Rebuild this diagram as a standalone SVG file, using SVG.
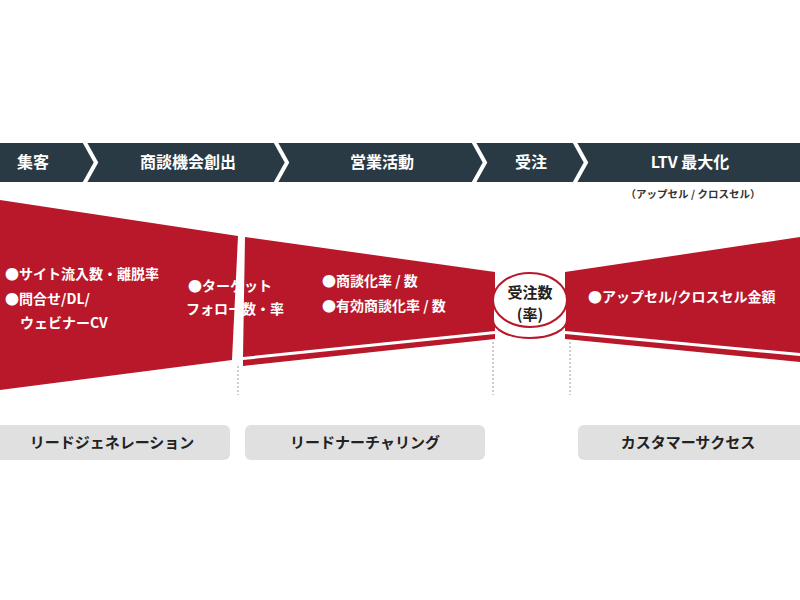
<svg xmlns="http://www.w3.org/2000/svg" width="800" height="600" viewBox="0 0 800 600">
<style>
text{font-family:"Noto Sans CJK JP","Noto Sans",sans-serif;font-weight:bold}
.h{fill:#fff;font-size:16px;text-anchor:middle}
.w{fill:#fff;font-size:14px}
.red{fill:#b8182a}
.lab{fill:#e0e0e0}
.lt{fill:#222;font-size:15px;text-anchor:middle}
.dot{stroke:#999;stroke-width:1;stroke-dasharray:2 2}
</style>
<rect width="800" height="600" fill="#fff"/>
<g id="header">
<rect x="0" y="143" width="800" height="39" fill="#2a3a45"/>
<g fill="none" stroke="#fff" stroke-width="4">
<polyline points="84,141 96,162.5 84,184"/>
<polyline points="275,141 287,162.5 275,184"/>
<polyline points="473,141 485,162.5 473,184"/>
<polyline points="574,141 586,162.5 574,184"/>
</g>
<text class="h" x="33" y="168">集客</text>
<text class="h" x="188" y="168">商談機会創出</text>
<text class="h" x="382" y="168">営業活動</text>
<text class="h" x="531" y="168">受注</text>
<text class="h" x="690" y="168">LTV 最大化</text>
<text x="693" y="198" text-anchor="middle" font-size="10.5" fill="#333">（アップセル / クロスセル）</text>
</g>
<g id="funnel-left">
<polygon class="red" points="0,200 238,236 232,360 0,390"/>
<text class="w" x="5" y="279">●サイト流入数・離脱率</text>
<text class="w" x="5" y="304">●問合せ/DL/</text>
<text class="w" x="20" y="328">ウェビナーCV</text>
</g>
<g id="funnel-middle">
<polygon class="red" points="245,237 495,272 495,331 243,357"/>
<polygon class="red" points="243,360 495,334 495,339 243,366"/>
<text class="w" x="188" y="291">●ターゲット</text>
<text class="w" x="186" y="314">フォロー数・率</text>
<text class="w" x="322" y="286">●商談化率 / 数</text>
<text class="w" x="322" y="311">●有効商談化率 / 数</text>
</g>
<g id="funnel-right">
<polygon class="red" points="565,272 800,237 800,353 565,331"/>
<polygon class="red" points="565,334 800,356 800,362 565,339"/>
<text class="w" x="588" y="302">●アップセル/クロスセル金額</text>
</g>
<g id="order">
<path d="M493,300 L493,320 A37,18 0 0 0 567,320 L567,300 Z" fill="#fff" stroke="#b8182a" stroke-width="2"/>
<ellipse cx="530" cy="300" rx="37" ry="27" fill="#fff" stroke="#b8182a" stroke-width="2"/>
<text x="530" y="298" text-anchor="middle" font-size="15" fill="#222">受注数</text>
<text x="530" y="320" text-anchor="middle" font-size="15" fill="#222">(率)</text>
</g>
<g id="connectors">
<line class="dot" x1="238" y1="366" x2="238" y2="395"/>
<line class="dot" x1="493" y1="342" x2="493" y2="395"/>
<line class="dot" x1="570" y1="342" x2="570" y2="395"/>
</g>
<g id="labels">
<rect class="lab" x="-10" y="425" width="240" height="35" rx="6"/>
<text class="lt" x="112" y="448">リードジェネレーション</text>
<rect class="lab" x="245" y="425" width="240" height="35" rx="6"/>
<text class="lt" x="365" y="448">リードナーチャリング</text>
<rect class="lab" x="578" y="425" width="240" height="35" rx="6"/>
<text class="lt" x="688" y="448">カスタマーサクセス</text>
</g>
</svg>
